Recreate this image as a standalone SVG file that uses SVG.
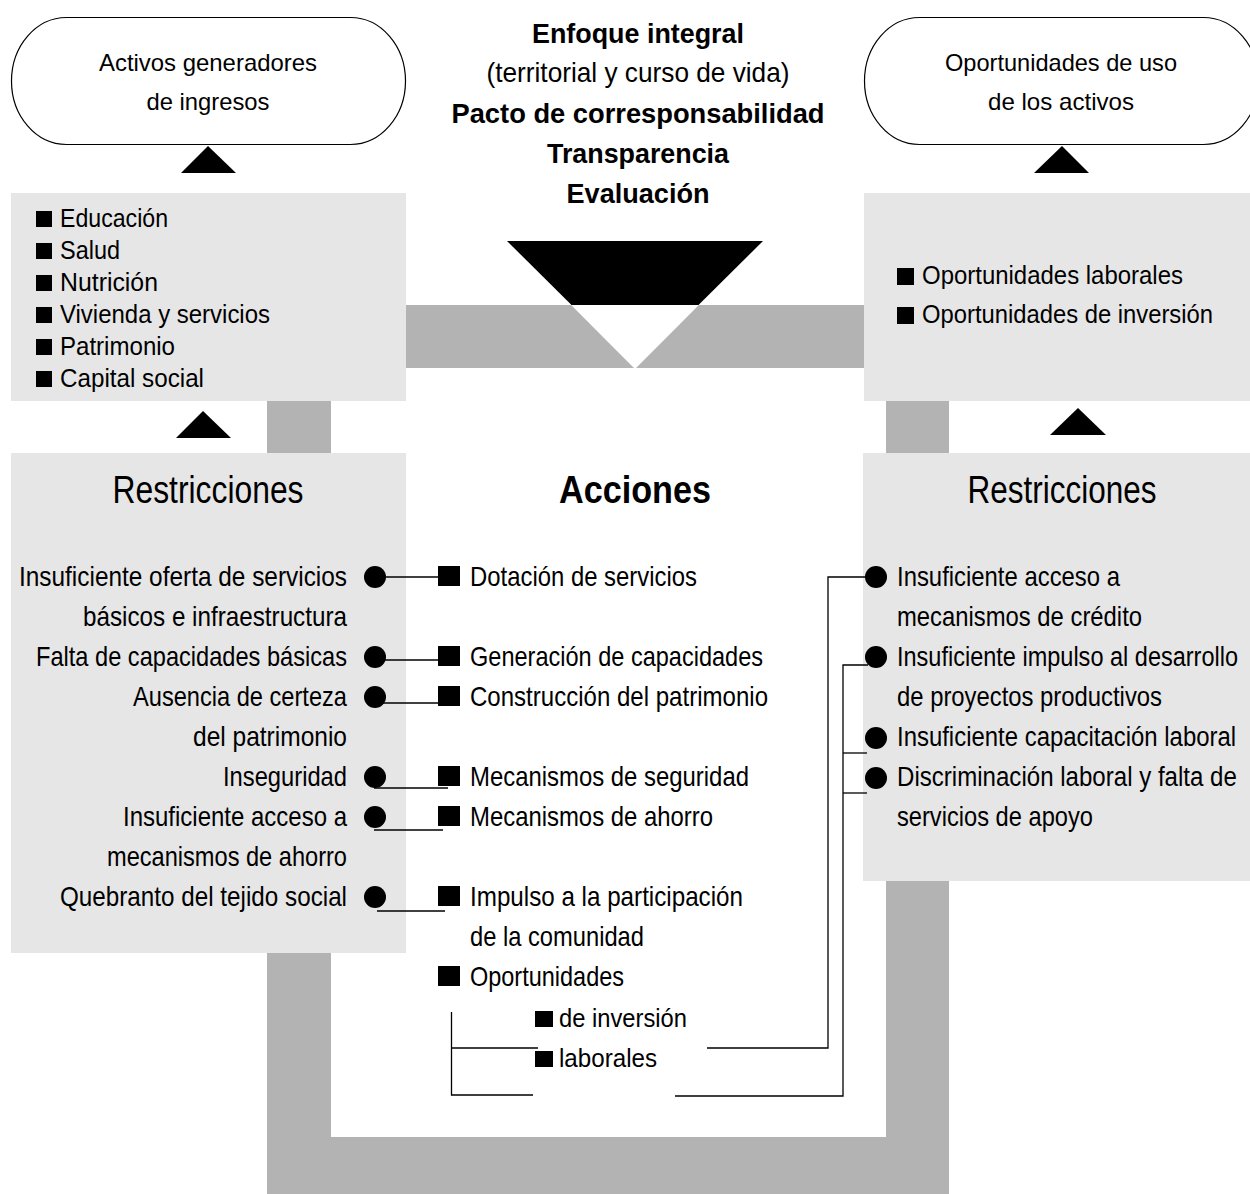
<svg xmlns="http://www.w3.org/2000/svg" width="1250" height="1194" viewBox="0 0 1250 1194">
<style>
text{font-family:"Liberation Sans",Arial,sans-serif;fill:#000}
.b{font-weight:bold}
.m{text-anchor:middle}
.e{text-anchor:end}
.s28{font-size:28px}
.s26{font-size:26px}
.s25{font-size:25px}
.s24{font-size:24px}
.s39{font-size:39px}
.lb{fill:#e6e6e6}
.bar{fill:#b3b3b3}
.pill{fill:#fff;stroke:#000;stroke-width:1.2}
.ln{fill:none;stroke:#000;stroke-width:1.3}
.tri{fill:#000}
</style>
<rect width="1250" height="1194" fill="#fff"/>

<g id="frame">
<path class="bar" fill-rule="evenodd" d="M267 305H949V1194H267Z M331 368V1137H886V368Z"/>
</g>

<g id="principios">
<polygon class="tri" points="507,241 763,241 635,368"/>
<polygon fill="#fff" points="571,305 699,305 635,369"/>
<text class="b m s28" x="638" y="43" textLength="212" lengthAdjust="spacingAndGlyphs">Enfoque integral</text>
<text class="m s28" x="638" y="82" textLength="303" lengthAdjust="spacingAndGlyphs">(territorial y curso de vida)</text>
<text class="b m s28" x="638" y="123" textLength="373" lengthAdjust="spacingAndGlyphs">Pacto de corresponsabilidad</text>
<text class="b m s28" x="638" y="163" textLength="182" lengthAdjust="spacingAndGlyphs">Transparencia</text>
<text class="b m s28" x="638" y="203" textLength="143" lengthAdjust="spacingAndGlyphs">Evaluación</text>
</g>

<g id="activos-generadores">
<rect class="pill" x="11.5" y="17.5" width="394" height="127" rx="55" ry="63.5"/>
<text class="m s24" x="208" y="71" textLength="218" lengthAdjust="spacingAndGlyphs">Activos generadores</text>
<text class="m s24" x="208" y="110" textLength="123" lengthAdjust="spacingAndGlyphs">de ingresos</text>
<polygon class="tri" points="181,173 236,173 208,146"/>
</g>

<g id="oportunidades-uso">
<rect class="pill" x="864.5" y="17.5" width="394" height="127" rx="55" ry="63.5"/>
<text class="m s24" x="1061" y="71" textLength="232" lengthAdjust="spacingAndGlyphs">Oportunidades de uso</text>
<text class="m s24" x="1061" y="110" textLength="146" lengthAdjust="spacingAndGlyphs">de los activos</text>
<polygon class="tri" points="1034,173 1089,173 1062,146"/>
</g>

<g id="activos-lista">
<rect class="lb" x="11" y="193" width="395" height="208"/>
<rect x="36" y="211" width="16" height="16"/>
<rect x="36" y="243" width="16" height="16"/>
<rect x="36" y="275" width="16" height="16"/>
<rect x="36" y="307" width="16" height="16"/>
<rect x="36" y="339" width="16" height="16"/>
<rect x="36" y="371" width="16" height="16"/>
<text class="s26" x="60" y="227" textLength="108" lengthAdjust="spacingAndGlyphs">Educación</text>
<text class="s26" x="60" y="259" textLength="60" lengthAdjust="spacingAndGlyphs">Salud</text>
<text class="s26" x="60" y="291" textLength="98" lengthAdjust="spacingAndGlyphs">Nutrición</text>
<text class="s26" x="60" y="323" textLength="210" lengthAdjust="spacingAndGlyphs">Vivienda y servicios</text>
<text class="s26" x="60" y="355" textLength="115" lengthAdjust="spacingAndGlyphs">Patrimonio</text>
<text class="s26" x="60" y="387" textLength="144" lengthAdjust="spacingAndGlyphs">Capital social</text>
<polygon class="tri" points="176,438 231,438 203,411"/>
</g>

<g id="oportunidades-lista">
<rect class="lb" x="864" y="193" width="386" height="208"/>
<rect x="897" y="268" width="17" height="17"/>
<rect x="897" y="307" width="17" height="17"/>
<text class="s25" x="922" y="284" textLength="261" lengthAdjust="spacingAndGlyphs">Oportunidades laborales</text>
<text class="s25" x="922" y="323" textLength="291" lengthAdjust="spacingAndGlyphs">Oportunidades de inversión</text>
<polygon class="tri" points="1050,435 1106,435 1078,408"/>
</g>

<g id="restricciones-izq">
<rect class="lb" x="11" y="453" width="395" height="500"/>
<text class="m s39" x="208" y="503" textLength="191" lengthAdjust="spacingAndGlyphs">Restricciones</text>
<text class="e s28" x="347" y="586" textLength="328" lengthAdjust="spacingAndGlyphs">Insuficiente oferta de servicios</text>
<text class="e s28" x="347" y="626" textLength="264" lengthAdjust="spacingAndGlyphs">básicos e infraestructura</text>
<text class="e s28" x="347" y="666" textLength="311" lengthAdjust="spacingAndGlyphs">Falta de capacidades básicas</text>
<text class="e s28" x="347" y="706" textLength="214" lengthAdjust="spacingAndGlyphs">Ausencia de certeza</text>
<text class="e s28" x="347" y="746" textLength="154" lengthAdjust="spacingAndGlyphs">del patrimonio</text>
<text class="e s28" x="347" y="786" textLength="124" lengthAdjust="spacingAndGlyphs">Inseguridad</text>
<text class="e s28" x="347" y="826" textLength="224" lengthAdjust="spacingAndGlyphs">Insuficiente acceso a</text>
<text class="e s28" x="347" y="866" textLength="240" lengthAdjust="spacingAndGlyphs">mecanismos de ahorro</text>
<text class="e s28" x="347" y="906" textLength="287" lengthAdjust="spacingAndGlyphs">Quebranto del tejido social</text>
</g>

<g id="restricciones-der">
<rect class="lb" x="863" y="453" width="387" height="428"/>
<text class="m s39" x="1062" y="503" textLength="189" lengthAdjust="spacingAndGlyphs">Restricciones</text>
<text class="s28" x="897" y="586" textLength="223" lengthAdjust="spacingAndGlyphs">Insuficiente acceso a</text>
<text class="s28" x="897" y="626" textLength="245" lengthAdjust="spacingAndGlyphs">mecanismos de crédito</text>
<text class="s28" transform="translate(897,666) scale(0.84,1)">Insuficiente impulso al desarrollo</text>
<text class="s28" x="897" y="706" textLength="265" lengthAdjust="spacingAndGlyphs">de proyectos productivos</text>
<text class="s28" transform="translate(897,746) scale(0.855,1)">Insuficiente capacitación laboral</text>
<text class="s28" transform="translate(897,786) scale(0.86,1)">Discriminación laboral y falta de</text>
<text class="s28" x="897" y="826" textLength="196" lengthAdjust="spacingAndGlyphs">servicios de apoyo</text>
</g>

<g id="acciones">
<text class="b m" x="635" y="503" font-size="38" textLength="152" lengthAdjust="spacingAndGlyphs">Acciones</text>
<rect x="438" y="566" width="22" height="20"/>
<rect x="438" y="646" width="22" height="20"/>
<rect x="438" y="686" width="22" height="20"/>
<rect x="438" y="766" width="22" height="20"/>
<rect x="438" y="806" width="22" height="20"/>
<rect x="438" y="886" width="22" height="20"/>
<rect x="438" y="966" width="22" height="20"/>
<rect x="535" y="1011" width="18" height="16"/>
<rect x="535" y="1051" width="18" height="16"/>
<text class="s28" x="470" y="586" textLength="227" lengthAdjust="spacingAndGlyphs">Dotación de servicios</text>
<text class="s28" x="470" y="666" textLength="293" lengthAdjust="spacingAndGlyphs">Generación de capacidades</text>
<text class="s28" x="470" y="706" textLength="298" lengthAdjust="spacingAndGlyphs">Construcción del patrimonio</text>
<text class="s28" x="470" y="786" textLength="279" lengthAdjust="spacingAndGlyphs">Mecanismos de seguridad</text>
<text class="s28" x="470" y="826" textLength="243" lengthAdjust="spacingAndGlyphs">Mecanismos de ahorro</text>
<text class="s28" x="470" y="906" textLength="273" lengthAdjust="spacingAndGlyphs">Impulso a la participación</text>
<text class="s28" x="470" y="946" textLength="174" lengthAdjust="spacingAndGlyphs">de la comunidad</text>
<text class="s28" x="470" y="986" textLength="154" lengthAdjust="spacingAndGlyphs">Oportunidades</text>
<text class="s25" x="559" y="1027" textLength="128" lengthAdjust="spacingAndGlyphs">de inversión</text>
<text class="s25" x="559" y="1067" textLength="98" lengthAdjust="spacingAndGlyphs">laborales</text>
</g>

<g id="connectors">
<path class="ln" d="M375 577H438"/>
<path class="ln" d="M375 660H438"/>
<path class="ln" d="M375 703H438"/>
<path class="ln" d="M374 788H448"/>
<path class="ln" d="M374 830H443"/>
<path class="ln" d="M377 911H445"/>
<path class="ln" d="M538 1048H451.5M451.5 1012V1095H533"/>
<path class="ln" d="M707 1048H828V577H866"/>
<path class="ln" d="M675 1096H843V665H868"/>
<path class="ln" d="M843 753H867"/>
<path class="ln" d="M843 793H867"/>
<circle cx="375" cy="577" r="11"/>
<circle cx="375" cy="657" r="11"/>
<circle cx="375" cy="697" r="11"/>
<circle cx="375" cy="777" r="11"/>
<circle cx="375" cy="817" r="11"/>
<circle cx="375" cy="897" r="11"/>
<circle cx="876" cy="577" r="11"/>
<circle cx="876" cy="657" r="11"/>
<circle cx="876" cy="738" r="11"/>
<circle cx="876" cy="778" r="11"/>
</g>
</svg>
